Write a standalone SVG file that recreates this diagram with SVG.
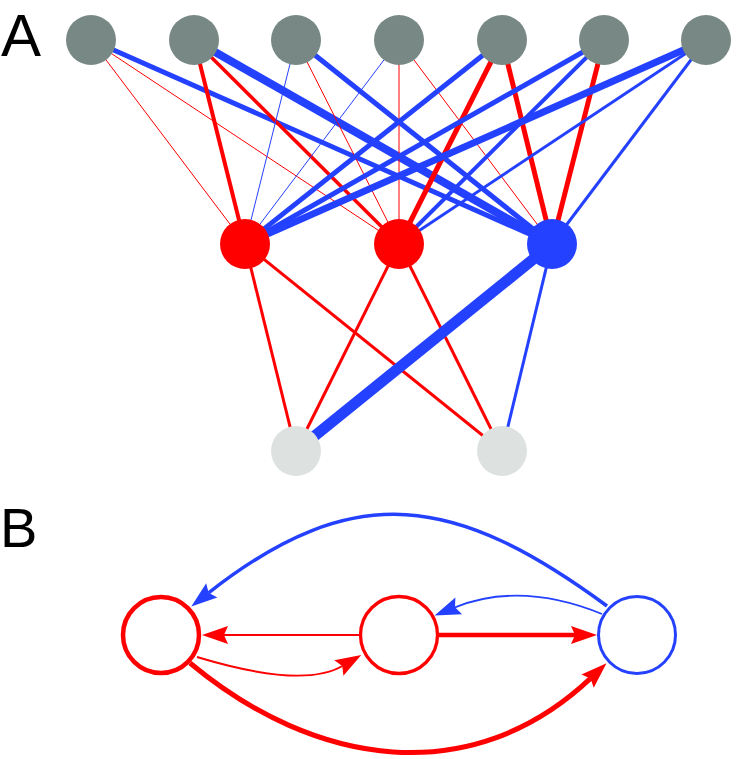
<svg xmlns="http://www.w3.org/2000/svg" width="747" height="759" viewBox="0 0 747 759">
<style>
.r{stroke:#ff0000;fill:none}
.b{stroke:#2441ff;fill:none}
.top{fill:#778885}
.bot{fill:#dde2e1}
.mr{fill:#ff0000}
.mb{fill:#2441ff}
.lbl{font-family:"Liberation Sans",Arial,sans-serif;fill:#000}
.cr{fill:#fff;stroke:#ff0000}
.cb{fill:#fff;stroke:#2441ff}
</style>
<defs>
<marker id="ahr" markerUnits="userSpaceOnUse" viewBox="-6 -10 30 20" refX="0" refY="0" markerWidth="30" markerHeight="20" orient="auto" overflow="visible">
<path d="M22,0 L-4,-9 L0,0 L-4,9 Z" fill="#ff0000"/>
</marker>
<marker id="ahb" markerUnits="userSpaceOnUse" viewBox="-6 -10 30 20" refX="0" refY="0" markerWidth="30" markerHeight="20" orient="auto" overflow="visible">
<path d="M22,0 L-4,-9 L0,0 L-4,9 Z" fill="#2441ff"/>
</marker>
</defs>
<rect width="747" height="759" fill="#fff"/>
<text class="lbl" x="1" y="56" font-size="60">A</text>
<text class="lbl" x="0" y="547" font-size="56">B</text>

<g id="connectors">
<!-- T1 -->
<line class="r" x1="91" y1="40" x2="245" y2="244" stroke-width="1"/>
<line class="r" x1="91" y1="40" x2="399" y2="244" stroke-width="1"/>
<line class="b" x1="91" y1="40" x2="552" y2="244" stroke-width="5"/>
<!-- T2 -->
<line class="r" x1="194" y1="40" x2="245" y2="244" stroke-width="4"/>
<line class="r" x1="194" y1="40" x2="399" y2="244" stroke-width="3.5"/>
<line class="b" x1="194" y1="40" x2="552" y2="244" stroke-width="8"/>
<!-- T3 -->
<line class="b" x1="296" y1="40" x2="245" y2="244" stroke-width="1"/>
<line class="r" x1="296" y1="40" x2="399" y2="244" stroke-width="1"/>
<line class="b" x1="296" y1="40" x2="552" y2="244" stroke-width="5"/>
<!-- T4 -->
<line class="b" x1="399" y1="40" x2="245" y2="244" stroke-width="1"/>
<line class="r" x1="399" y1="40" x2="399" y2="244" stroke-width="1"/>
<line class="r" x1="399" y1="40" x2="552" y2="244" stroke-width="1"/>
<!-- T5 -->
<line class="b" x1="502" y1="40" x2="245" y2="244" stroke-width="5"/>
<line class="r" x1="502" y1="40" x2="399" y2="244" stroke-width="5"/>
<line class="r" x1="502" y1="40" x2="552" y2="244" stroke-width="5"/>
<!-- T6 -->
<line class="b" x1="604" y1="40" x2="245" y2="244" stroke-width="5"/>
<line class="b" x1="604" y1="40" x2="399" y2="244" stroke-width="4"/>
<line class="r" x1="604" y1="40" x2="552" y2="244" stroke-width="5"/>
<!-- T7 -->
<line class="b" x1="706" y1="40" x2="245" y2="244" stroke-width="7"/>
<line class="b" x1="706" y1="40" x2="399" y2="244" stroke-width="3"/>
<line class="b" x1="706" y1="40" x2="552" y2="244" stroke-width="3"/>
<!-- middle to bottom -->
<line class="r" x1="245" y1="244" x2="296" y2="451" stroke-width="3"/>
<line class="r" x1="245" y1="244" x2="502" y2="451" stroke-width="3"/>
<line class="r" x1="399" y1="244" x2="296" y2="451" stroke-width="3"/>
<line class="r" x1="399" y1="244" x2="502" y2="451" stroke-width="3"/>
<line class="b" x1="552" y1="244" x2="296" y2="451" stroke-width="11"/>
<line class="b" x1="552" y1="244" x2="502" y2="451" stroke-width="3"/>

<!-- Part B -->
<path class="b" d="M607,606 C456,495 355,478 208.6,592.8" stroke-width="3.5" marker-end="url(#ahb)"/>
<path class="b" d="M602,614 Q521,581 455,607.3" stroke-width="1.8" marker-end="url(#ahb)"/>
<path class="r" d="M359,635 L224,635" stroke-width="2" marker-end="url(#ahr)"/>
<path class="r" d="M197,657 Q303,689 342.3,666" stroke-width="2" marker-end="url(#ahr)"/>
<path class="r" d="M439,635 L575,635" stroke-width="4.5" marker-end="url(#ahr)"/>
<path class="r" d="M190,663 C316,768 472,790 590.5,678.4" stroke-width="5" marker-end="url(#ahr)"/>
</g>

<g id="t1"><circle class="top" cx="91" cy="40" r="25"/></g>
<g id="t2"><circle class="top" cx="194" cy="40" r="25"/></g>
<g id="t3"><circle class="top" cx="296" cy="40" r="25"/></g>
<g id="t4"><circle class="top" cx="399" cy="40" r="25"/></g>
<g id="t5"><circle class="top" cx="502" cy="40" r="25"/></g>
<g id="t6"><circle class="top" cx="604" cy="40" r="25"/></g>
<g id="t7"><circle class="top" cx="706" cy="40" r="25"/></g>
<g id="m1"><circle class="mr" cx="245" cy="244" r="25"/></g>
<g id="m2"><circle class="mr" cx="399" cy="244" r="25"/></g>
<g id="m3"><circle class="mb" cx="552" cy="244" r="25"/></g>
<g id="o1"><circle class="bot" cx="296" cy="451" r="25"/></g>
<g id="o2"><circle class="bot" cx="502" cy="451" r="25"/></g>

<g id="b1"><circle class="cr" cx="161" cy="635" r="38" stroke-width="4.5"/></g>
<g id="b2"><circle class="cr" cx="399" cy="635" r="38.5" stroke-width="3.3"/></g>
<g id="b3"><circle class="cb" cx="637" cy="635" r="38.5" stroke-width="3"/></g>
</svg>
